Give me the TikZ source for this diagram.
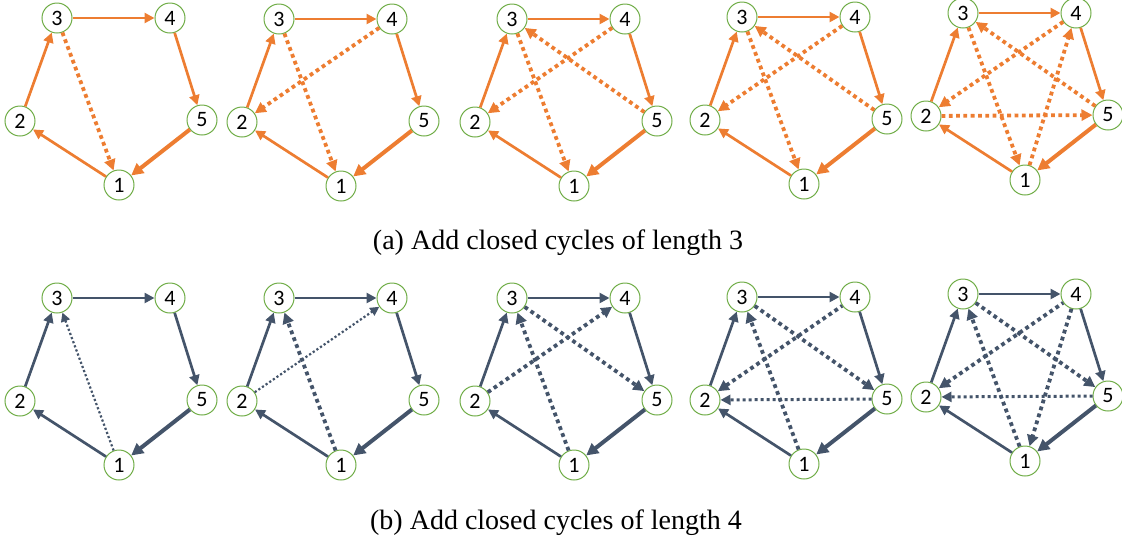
\documentclass[tikz,border=0pt]{standalone}
\usepackage{fontspec}
\setmainfont{Liberation Serif}
\newfontfamily\calibri{Carlito}
\usetikzlibrary{arrows.meta}

\definecolor{ora}{HTML}{ED7D31}
\definecolor{schiefer}{HTML}{44546A}
\definecolor{gruen}{HTML}{70AD47}

\tikzset{
	knoten/.style={circle, draw=gruen, line width=1pt, fill=white, minimum size=30pt, inner sep=0pt, font=\calibri\fontsize{22}{22}\selectfont},
	kante/.style={line width=2.7pt, -{Triangle[length=10pt,width=10pt]}},
	kantedick/.style={line width=4pt, -{Triangle[length=12pt,width=12pt]}},
	zyklus/.style={line width=3.8pt, dash pattern=on 3.8pt off 3.5pt, -{Triangle[length=11pt,width=11pt]}},
	zyklusmittel/.style={line width=3pt, dash pattern=on 3pt off 3pt, -{Triangle[length=10pt,width=10pt]}},
	zyklusduenn/.style={line width=2.2pt, dash pattern=on 2.2pt off 2.2pt, -{Triangle[length=9pt,width=9pt]}},
	titel/.style={font=\fontsize{28}{34}\selectfont}
}

% Fuenfeck: Name, x, y (Knoten 3), Farbe
\newcommand{\fuenfeck}[4]{
	\node[knoten] (#1-3) at (#2,#3) {3};
	\node[knoten] (#1-4) at ([shift={(113,0)}]#1-3) {4};
	\node[knoten] (#1-2) at ([shift={(-37,103)}]#1-3) {2};
	\node[knoten] (#1-5) at ([shift={(145,102)}]#1-3) {5};
	\node[knoten] (#1-1) at ([shift={(62,167)}]#1-3) {1};
	\draw[kante, #4] (#1-1) -- (#1-2);
	\draw[kante, #4] (#1-2) -- (#1-3);
	\draw[kante, #4] (#1-3) -- (#1-4);
	\draw[kante, #4] (#1-4) -- (#1-5);
	\draw[kantedick, #4] (#1-5) -- (#1-1);
}

\begin{document}
\begin{tikzpicture}[x=1pt, y=-1pt]

	\useasboundingbox (0,0) rectangle (1122,550);

	% Zeile (a)
	\fuenfeck{a1}{57}{18}{ora}
	\fuenfeck{a2}{279}{19}{ora}
	\fuenfeck{a3}{512}{19}{ora}
	\fuenfeck{a4}{742}{17}{ora}
	\fuenfeck{a5}{963}{13}{ora}

	\draw[zyklus, ora] (a1-3) -- (a1-1);

	\draw[zyklus, ora] (a2-3) -- (a2-1);
	\draw[zyklus, ora] (a2-4) -- (a2-2);

	\draw[zyklus, ora] (a3-3) -- (a3-1);
	\draw[zyklus, ora] (a3-4) -- (a3-2);
	\draw[zyklus, ora] (a3-5) -- (a3-3);

	\draw[zyklus, ora] (a4-3) -- (a4-1);
	\draw[zyklus, ora] (a4-4) -- (a4-2);
	\draw[zyklus, ora] (a4-5) -- (a4-3);

	\draw[zyklus, ora] (a5-3) -- (a5-1);
	\draw[zyklus, ora] (a5-4) -- (a5-2);
	\draw[zyklus, ora] (a5-5) -- (a5-3);
	\draw[zyklus, ora] (a5-2) -- (a5-5);
	\draw[zyklus, ora] (a5-1) -- (a5-4);

	\node[titel] (capa) at (558,243) {(a) Add closed cycles of length 3};

	% Zeile (b)
	\fuenfeck{b1}{57}{298}{schiefer}
	\fuenfeck{b2}{279}{298}{schiefer}
	\fuenfeck{b3}{512}{298}{schiefer}
	\fuenfeck{b4}{742}{297}{schiefer}
	\fuenfeck{b5}{963}{294}{schiefer}

	\draw[zyklusduenn, schiefer] (b1-1) -- (b1-3);

	\draw[zyklus, schiefer] (b2-1) -- (b2-3);
	\draw[zyklusduenn, schiefer] (b2-2) -- (b2-4);

	\draw[zyklus, schiefer] (b3-1) -- (b3-3);
	\draw[zyklus, schiefer] (b3-2) -- (b3-4);
	\draw[zyklus, schiefer] (b3-3) -- (b3-5);

	\draw[zyklus, schiefer] (b4-1) -- (b4-3);
	\draw[zyklus, schiefer, {Triangle[length=11pt,width=11pt]}-] (b4-2) -- (b4-4);
	\draw[zyklus, schiefer] (b4-3) -- (b4-5);
	\draw[zyklusmittel, schiefer] (b4-5) -- (b4-2);

	\draw[zyklus, schiefer] (b5-1) -- (b5-3);
	\draw[zyklus, schiefer, {Triangle[length=11pt,width=11pt]}-] (b5-2) -- (b5-4);
	\draw[zyklus, schiefer] (b5-3) -- (b5-5);
	\draw[zyklusmittel, schiefer] (b5-5) -- (b5-2);
	\draw[zyklus, schiefer] (b5-4) -- (b5-1);

	\node[titel] (capb) at (556,523) {(b) Add closed cycles of length 4};

\end{tikzpicture}
\end{document}
